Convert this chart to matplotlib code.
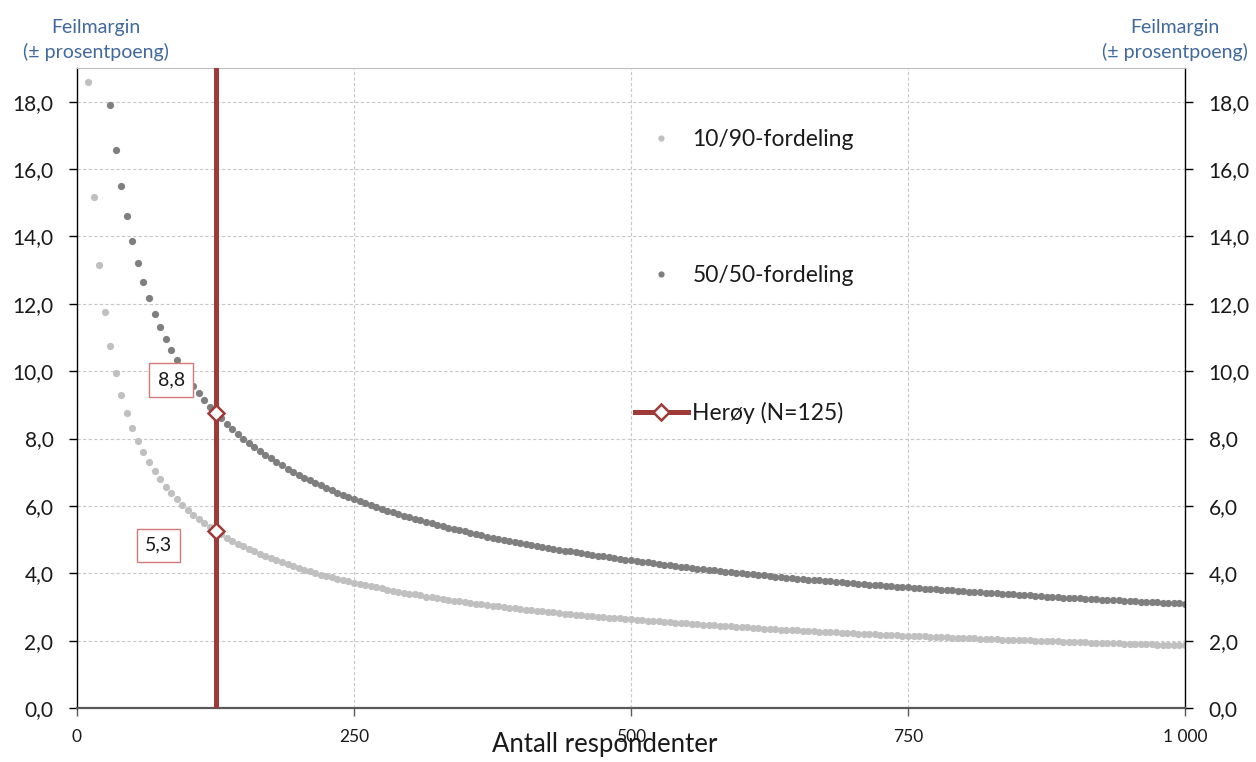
import matplotlib
matplotlib.use('Agg')
import matplotlib.pyplot as plt
from matplotlib.lines import Line2D
from matplotlib.ticker import FuncFormatter, FixedLocator

plt.rcParams['font.family'] = ['Lato', 'DejaVu Sans']

# ---------------- data ----------------
respondents = [
    10, 15, 20, 25,
    30, 35, 40, 45, 50, 55, 60, 65, 70, 75,
    80, 85, 90, 95, 100, 105, 110, 115, 120, 125,
    130, 135, 140, 145, 150, 155, 160, 165, 170, 175,
    180, 185, 190, 195, 200, 205, 210, 215, 220, 225,
    230, 235, 240, 245, 250, 255, 260, 265, 270, 275,
    280, 285, 290, 295, 300, 305, 310, 315, 320, 325,
    330, 335, 340, 345, 350, 355, 360, 365, 370, 375,
    380, 385, 390, 395, 400, 405, 410, 415, 420, 425,
    430, 435, 440, 445, 450, 455, 460, 465, 470, 475,
    480, 485, 490, 495, 500, 505, 510, 515, 520, 525,
    530, 535, 540, 545, 550, 555, 560, 565, 570, 575,
    580, 585, 590, 595, 600, 605, 610, 615, 620, 625,
    630, 635, 640, 645, 650, 655, 660, 665, 670, 675,
    680, 685, 690, 695, 700, 705, 710, 715, 720, 725,
    730, 735, 740, 745, 750, 755, 760, 765, 770, 775,
    780, 785, 790, 795, 800, 805, 810, 815, 820, 825,
    830, 835, 840, 845, 850, 855, 860, 865, 870, 875,
    880, 885, 890, 895, 900, 905, 910, 915, 920, 925,
    930, 935, 940, 945, 950, 955, 960, 965, 970, 975,
    980, 985, 990, 995, 1000,
]

margin_10_90 = [
    18.59, 15.18, 13.15, 11.76,
    10.74, 9.94, 9.30, 8.77, 8.32, 7.93, 7.59, 7.29, 7.03, 6.79,
    6.57, 6.38, 6.20, 6.03, 5.88, 5.74, 5.61, 5.48, 5.37, 5.26,
    5.16, 5.06, 4.97, 4.88, 4.80, 4.72, 4.65, 4.58, 4.51, 4.44,
    4.38, 4.32, 4.27, 4.21, 4.16, 4.11, 4.06, 4.01, 3.96, 3.92,
    3.88, 3.84, 3.80, 3.76, 3.72, 3.68, 3.65, 3.61, 3.58, 3.55,
    3.51, 3.48, 3.45, 3.42, 3.39, 3.37, 3.34, 3.31, 3.29, 3.26,
    3.24, 3.21, 3.19, 3.17, 3.14, 3.12, 3.10, 3.08, 3.06, 3.04,
    3.02, 3.00, 2.98, 2.96, 2.94, 2.92, 2.90, 2.89, 2.87, 2.85,
    2.84, 2.82, 2.80, 2.79, 2.77, 2.76, 2.74, 2.73, 2.71, 2.70,
    2.68, 2.67, 2.66, 2.64, 2.63, 2.62, 2.60, 2.59, 2.58, 2.57,
    2.55, 2.54, 2.53, 2.52, 2.51, 2.50, 2.48, 2.47, 2.46, 2.45,
    2.44, 2.43, 2.42, 2.41, 2.40, 2.39, 2.38, 2.37, 2.36, 2.35,
    2.34, 2.33, 2.32, 2.32, 2.31, 2.30, 2.29, 2.28, 2.27, 2.26,
    2.25, 2.25, 2.24, 2.23, 2.22, 2.21, 2.21, 2.20, 2.19, 2.18,
    2.18, 2.17, 2.16, 2.15, 2.15, 2.14, 2.13, 2.13, 2.12, 2.11,
    2.11, 2.10, 2.09, 2.09, 2.08, 2.07, 2.07, 2.06, 2.05, 2.05,
    2.04, 2.03, 2.03, 2.02, 2.02, 2.01, 2.01, 2.00, 1.99, 1.99,
    1.98, 1.98, 1.97, 1.97, 1.96, 1.95, 1.95, 1.94, 1.94, 1.93,
    1.93, 1.92, 1.92, 1.91, 1.91, 1.90, 1.90, 1.89, 1.89, 1.88,
    1.88, 1.87, 1.87, 1.86, 1.86,
]

# 50/50 series starts at 30 respondents (smaller samples are above the axis)
respondents_50_50 = respondents[4:]
margin_50_50 = [
    17.89, 16.56, 15.50, 14.61, 13.86, 13.21, 12.65, 12.16, 11.71, 11.32,
    10.96, 10.63, 10.33, 10.05, 9.80, 9.56, 9.34, 9.14, 8.95, 8.77,
    8.60, 8.43, 8.28, 8.14, 8.00, 7.87, 7.75, 7.63, 7.52, 7.41,
    7.30, 7.21, 7.11, 7.02, 6.93, 6.84, 6.76, 6.68, 6.61, 6.53,
    6.46, 6.39, 6.33, 6.26, 6.20, 6.14, 6.08, 6.02, 5.96, 5.91,
    5.86, 5.81, 5.75, 5.71, 5.66, 5.61, 5.57, 5.52, 5.48, 5.44,
    5.39, 5.35, 5.31, 5.28, 5.24, 5.20, 5.17, 5.13, 5.09, 5.06,
    5.03, 4.99, 4.96, 4.93, 4.90, 4.87, 4.84, 4.81, 4.78, 4.75,
    4.73, 4.70, 4.67, 4.65, 4.62, 4.59, 4.57, 4.54, 4.52, 4.50,
    4.47, 4.45, 4.43, 4.40, 4.38, 4.36, 4.34, 4.32, 4.30, 4.28,
    4.26, 4.24, 4.22, 4.20, 4.18, 4.16, 4.14, 4.12, 4.10, 4.09,
    4.07, 4.05, 4.03, 4.02, 4.00, 3.98, 3.97, 3.95, 3.94, 3.92,
    3.90, 3.89, 3.87, 3.86, 3.84, 3.83, 3.81, 3.80, 3.79, 3.77,
    3.76, 3.74, 3.73, 3.72, 3.70, 3.69, 3.68, 3.66, 3.65, 3.64,
    3.63, 3.61, 3.60, 3.59, 3.58, 3.57, 3.55, 3.54, 3.53, 3.52,
    3.51, 3.50, 3.49, 3.48, 3.46, 3.45, 3.44, 3.43, 3.42, 3.41,
    3.40, 3.39, 3.38, 3.37, 3.36, 3.35, 3.34, 3.33, 3.32, 3.31,
    3.30, 3.29, 3.28, 3.28, 3.27, 3.26, 3.25, 3.24, 3.23, 3.22,
    3.21, 3.20, 3.20, 3.19, 3.18, 3.17, 3.16, 3.15, 3.15, 3.14,
    3.13, 3.12, 3.11, 3.11, 3.10,
]

heroy_n = 125
series_labels = ['10/90-fordeling', '50/50-fordeling', 'Herøy (N=125)']
x_ticks = [0, 250, 500, 750, 1000]
x_tick_labels = ['0', '250', '500', '750', '1 000']
y_ticks = [0, 2, 4, 6, 8, 10, 12, 14, 16, 18]
axis_title = 'Feilmargin'
axis_subtitle = '(± prosentpoeng)'
x_title = 'Antall respondenter'

# ---------------- styling ----------------
LIGHT = '#c0c0c0'
DARK = '#7f7f7f'
RED = '#9e3a37'
BOX_EDGE = '#d47a78'
BLUE = '#41699e'
TXT = '#1a1a1a'

W, H = 1256, 762
fig = plt.figure(figsize=(W / 100, H / 100), dpi=100)
L, R, B, T = 77, 1185, 708, 68
ax = fig.add_axes([L / W, 1 - B / H, (R - L) / W, (B - T) / H])
ax.set_xlim(0, 1000)
ax.set_ylim(0, 19)

ax.scatter(respondents, margin_10_90, s=27, color=LIGHT, linewidths=0, zorder=2)
ax.scatter(respondents_50_50, margin_50_50, s=27, color=DARK, linewidths=0, zorder=2)

ax.axvline(heroy_n, color=RED, lw=3.6, zorder=3)
v_hi = margin_50_50[respondents_50_50.index(heroy_n)]
v_lo = margin_10_90[respondents.index(heroy_n)]
ax.plot([heroy_n, heroy_n], [v_hi, v_lo], ls='none', marker='D', ms=8,
        mfc='white', mec=RED, mew=1.8, zorder=4)

def fmt(v):
    return f'{v:.1f}'.replace('.', ',')

box = dict(boxstyle='square,pad=0.42', fc='white', ec=BOX_EDGE, lw=1.0)
ax.text(85, 9.74, fmt(v_hi), ha='center', va='center', fontsize=14,
        color=TXT, bbox=box, zorder=5)
ax.text(73.6, 4.83, fmt(v_lo), ha='center', va='center', fontsize=14,
        color=TXT, bbox=box, zorder=5)

# grid
ax.set_axisbelow(True)
ax.xaxis.set_major_locator(FixedLocator(x_ticks))
ax.yaxis.set_major_locator(FixedLocator(y_ticks))
ax.grid(True, linestyle=(0, (3, 2)), color='#c8c8c8', lw=0.8)

ax.set_xticklabels(x_tick_labels)
ax.yaxis.set_major_formatter(FuncFormatter(lambda v, p: fmt(v)))

ax.yaxis.set_ticks_position('both')
ax.tick_params(axis='y', which='both', direction='out', length=6, width=1,
               pad=11, labelsize=15, labelright=True, colors='black')
ax.tick_params(axis='y', labelcolor=TXT)
ax.tick_params(axis='x', direction='out', length=6, width=1, pad=9,
               labelsize=12.5, color='#595959', labelcolor=TXT)

for s in ('left', 'right'):
    ax.spines[s].set_color('black')
    ax.spines[s].set_linewidth(1.0)
ax.spines['top'].set_color('#bfbfbf')
ax.spines['top'].set_linewidth(0.8)
ax.spines['bottom'].set_color('#595959')
ax.spines['bottom'].set_linewidth(1.6)

ax.set_xlabel(x_title, fontsize=18.5, color=TXT)
ax.xaxis.set_label_coords((605 - L) / (R - L), -0.038)

# axis titles
for cx in (96, 1175):
    fig.text(cx / W, 1 - 33 / H, axis_title, ha='center', va='baseline',
             color=BLUE, fontsize=14)
    fig.text(cx / W, 1 - 58 / H, axis_subtitle, ha='center', va='baseline',
             color=BLUE, fontsize=14)

# legend
h1 = Line2D([], [], ls='none', marker='o', ms=4.5, mfc=LIGHT, mec='none')
h2 = Line2D([], [], ls='none', marker='o', ms=4.5, mfc=DARK, mec='none')
h3 = Line2D([], [], color=RED, lw=3.6, marker='D', ms=8, mfc='white',
            mec=RED, mew=1.8)
ax.legend([h1, h2, h3], series_labels, loc='upper left',
          bbox_to_anchor=(635 / W, 1 - 129 / H), bbox_transform=fig.transFigure,
          frameon=False, fontsize=16.5, handlelength=2.3, handletextpad=0.2,
          labelspacing=5.03, borderpad=0, borderaxespad=0, labelcolor=TXT)

fig.savefig('out.png', dpi=100, facecolor='white')
